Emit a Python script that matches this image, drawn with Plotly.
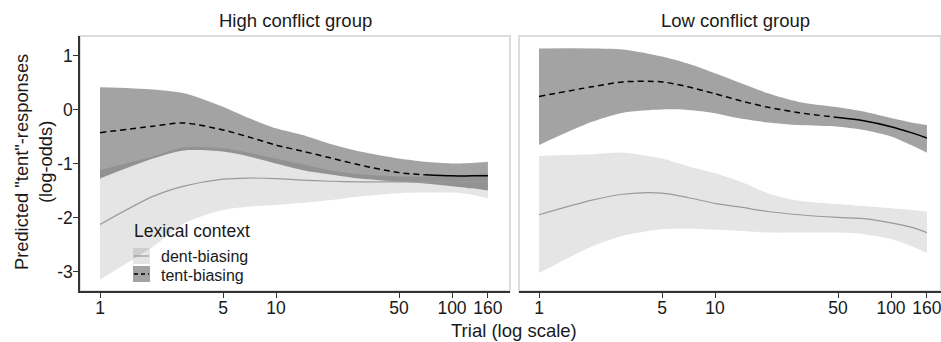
import plotly.graph_objects as go

# ---------------- data ----------------
trials = [1, 2, 3, 5, 7, 10, 14, 20, 30, 50, 70, 100, 130, 160]
x_tick_vals = [1, 5, 10, 50, 100, 160]
x_tick_text = ["1", "5", "10", "50", "100", "160"]
y_tick_vals = [1, 0, -1, -2, -3]
y_tick_text = ["1", "0", "-1", "-2", "-3"]

panel_titles = ["High conflict group", "Low conflict group"]
legend_title = "Lexical context"
series_names = ["dent-biasing", "tent-biasing"]

# High conflict group
high_tent_upper = [0.42, 0.38, 0.31, 0.06, -0.15, -0.34, -0.46, -0.62, -0.77, -0.90, -0.96, -0.99, -0.98, -0.96]
high_tent_mean = [-0.42, -0.30, -0.24, -0.37, -0.50, -0.65, -0.76, -0.88, -1.02, -1.16, -1.20, -1.22, -1.22, -1.22]
high_tent_lower = [-1.27, -0.90, -0.75, -0.77, -0.86, -0.99, -1.11, -1.19, -1.27, -1.33, -1.36, -1.41, -1.45, -1.49]
high_dent_upper = [-1.11, -0.86, -0.69, -0.71, -0.79, -0.90, -1.00, -1.11, -1.19, -1.23, -1.23, -1.22, -1.20, -1.17]
high_dent_mean = [-2.12, -1.60, -1.41, -1.28, -1.26, -1.27, -1.30, -1.32, -1.33, -1.33, -1.33, -1.33, -1.33, -1.33]
high_dent_lower = [-3.14, -2.53, -2.10, -1.85, -1.79, -1.76, -1.72, -1.67, -1.60, -1.54, -1.53, -1.53, -1.57, -1.64]

# Low conflict group
low_tent_upper = [1.14, 1.14, 1.12, 0.99, 0.86, 0.68, 0.50, 0.31, 0.15, 0.05, -0.03, -0.15, -0.23, -0.28]
low_tent_mean = [0.25, 0.43, 0.52, 0.52, 0.43, 0.30, 0.17, 0.05, -0.05, -0.14, -0.20, -0.31, -0.42, -0.52]
low_tent_lower = [-0.65, -0.22, -0.05, 0.01, 0.00, -0.06, -0.16, -0.23, -0.28, -0.31, -0.37, -0.49, -0.65, -0.79]
low_dent_upper = [-0.85, -0.82, -0.79, -0.90, -1.04, -1.17, -1.33, -1.54, -1.68, -1.74, -1.78, -1.82, -1.85, -1.88]
low_dent_mean = [-1.94, -1.67, -1.56, -1.54, -1.62, -1.73, -1.80, -1.88, -1.94, -1.99, -2.01, -2.09, -2.17, -2.27]
low_dent_lower = [-3.02, -2.53, -2.33, -2.21, -2.20, -2.22, -2.24, -2.27, -2.27, -2.27, -2.30, -2.39, -2.52, -2.65]

# ---------------- style ----------------
W, H = 941, 342
ML, MR, MT, MB = 80, 0, 36, 51
PW, PH = W - ML - MR, H - MT - MB
FONT = "Liberation Sans, Arial, sans-serif"
TXT = "#1a1a1a"
TENT_FILL = "rgba(0,0,0,0.36)"
DENT_FILL = "rgba(0,0,0,0.10)"
DENT_LINE = "#9a9a9a"
BORDER = "#dcdcdc"
AXIS = "#333333"
DASH = "6px,4px"
SOLID_FROM = [70, 50]  # trial where the dashed tent line turns solid (visual only)
SPL = dict(shape="spline", smoothing=0.8)


def px(x):
    return (x - ML) / PW


def py(y):
    return (H - MB - y) / PH


dom_left = [0, px(510)]
dom_right = [px(519), 1]

fig = go.Figure()

panels = [
    ("x", "y", high_tent_upper, high_tent_mean, high_tent_lower,
     high_dent_upper, high_dent_mean, high_dent_lower),
    ("x2", "y2", low_tent_upper, low_tent_mean, low_tent_lower,
     low_dent_upper, low_dent_mean, low_dent_lower),
]

for i, (xa, ya, tu, tm, tl, du, dm, dl) in enumerate(panels):
    for lo, up, fc in ((dl, du, DENT_FILL), (tl, tu, TENT_FILL)):
        fig.add_trace(go.Scatter(x=trials, y=lo, mode="lines", line=dict(width=0, **SPL),
                                 xaxis=xa, yaxis=ya, showlegend=False, hoverinfo="skip"))
        fig.add_trace(go.Scatter(x=trials, y=up, mode="lines", line=dict(width=0, **SPL),
                                 fill="tonexty", fillcolor=fc,
                                 xaxis=xa, yaxis=ya, showlegend=False, hoverinfo="skip"))
    fig.add_trace(go.Scatter(x=trials, y=dm, mode="lines",
                             line=dict(color=DENT_LINE, width=1.2, **SPL),
                             xaxis=xa, yaxis=ya, showlegend=False, name=series_names[0]))
    k = trials.index(SOLID_FROM[i])
    fig.add_trace(go.Scatter(x=trials[:k + 1], y=tm[:k + 1], mode="lines",
                             line=dict(color="black", width=1.5, dash=DASH, **SPL),
                             xaxis=xa, yaxis=ya, showlegend=False, name=series_names[1]))
    fig.add_trace(go.Scatter(x=trials[k:], y=tm[k:], mode="lines",
                             line=dict(color="black", width=1.5, **SPL),
                             xaxis=xa, yaxis=ya, showlegend=False, name=series_names[1]))

ppd = 176.0  # pixels per decade
left_w = (dom_left[1] - dom_left[0]) * PW
right_w = (dom_right[1] - dom_right[0]) * PW
x0 = -20 / ppd
yr = [-3.352, 1.37]

common_x = dict(type="log", tickmode="array", tickvals=x_tick_vals, ticktext=x_tick_text,
                showgrid=False, zeroline=False, showline=True, linecolor=AXIS, linewidth=1.5,
                ticks="outside", ticklen=5, tickwidth=1.3, tickcolor=AXIS,
                ticklabeloverflow="allow", ticklabelstandoff=-5,
                tickfont=dict(family=FONT, size=17.5, color=TXT))

fig.update_layout(
    width=W, height=H,
    margin=dict(l=ML, r=MR, t=MT, b=MB, pad=0),
    paper_bgcolor="white", plot_bgcolor="white",
    font=dict(family=FONT, color=TXT),
    showlegend=False,
    xaxis=dict(domain=dom_left, range=[x0, x0 + left_w / ppd], **common_x),
    xaxis2=dict(domain=dom_right, range=[x0, x0 + right_w / ppd], anchor="y2", **common_x),
    yaxis=dict(range=yr, tickmode="array", tickvals=y_tick_vals, ticktext=y_tick_text,
               showgrid=False, zeroline=False, showline=True, linecolor=AXIS, linewidth=1.5,
               ticks="outside", ticklen=5, tickwidth=1.3, tickcolor=AXIS,
               ticklabelstandoff=-3,
               tickfont=dict(family=FONT, size=17.5, color=TXT)),
    yaxis2=dict(range=yr, anchor="x2", showticklabels=False, showgrid=False, zeroline=False,
                showline=False, ticks=""),
)

shapes = []
for d in (dom_left, dom_right):
    shapes.append(dict(type="rect", xref="paper", yref="paper", x0=d[0], x1=d[1], y0=0, y1=1,
                       line=dict(color=BORDER, width=2), fillcolor="rgba(0,0,0,0)", layer="below"))

# manual legend (ggplot-style keys)
kx0, kx1 = 133, 150
for (y0, y1, fillc, lc, dash, lw) in [(248, 264, DENT_FILL, DENT_LINE, "solid", 1.2),
                                      (266, 282, TENT_FILL, "black", "4px,3px", 1.5)]:
    shapes.append(dict(type="rect", xref="paper", yref="paper", x0=px(kx0), x1=px(kx1),
                       y0=py(y1), y1=py(y0), line=dict(width=0), fillcolor=fillc, layer="above"))
    shapes.append(dict(type="line", xref="paper", yref="paper", x0=px(kx0 + 1), x1=px(kx1 - 1),
                       y0=py((y0 + y1) / 2), y1=py((y0 + y1) / 2),
                       line=dict(color=lc, width=lw, dash=dash), layer="above"))


def ann(text, x, y, size, xanchor="center", angle=0):
    return dict(text=text, x=px(x), y=py(y), xref="paper", yref="paper", showarrow=False,
                textangle=angle, font=dict(family=FONT, size=size, color=TXT),
                xanchor=xanchor, yanchor="middle")


annotations = [
    ann(panel_titles[0], 295, 20, 18.5),
    ann(panel_titles[1], 735, 20, 18.5),
    ann("Trial (log scale)", 514, 330, 18.5),
    ann('Predicted "tent"-responses<br>(log-odds)', 33, 162, 18.3, angle=-90),
    ann(legend_title, 132, 231, 17.5, xanchor="left"),
    ann(series_names[0], 159, 256, 16, xanchor="left"),
    ann(series_names[1], 159, 275, 16, xanchor="left"),
]

fig.update_layout(shapes=shapes, annotations=annotations)
fig.write_html("out.html")
